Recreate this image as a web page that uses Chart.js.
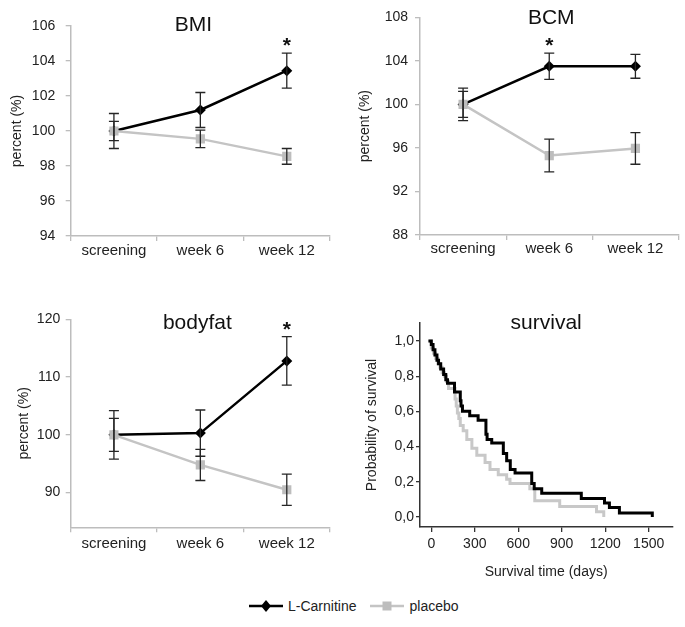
<!DOCTYPE html>
<html>
<head>
<meta charset="utf-8">
<script src="https://cdn.jsdelivr.net/npm/chart.js@4.4.0/dist/chart.umd.min.js"></script>
<style>
  body { margin: 0; background: #fff; font-family: "Liberation Sans", Arial, sans-serif; }
  #page { position: relative; width: 685px; height: 627px; overflow: hidden; }
  #page canvas { position: absolute; }
  #legend { position: absolute; left: 249px; top: 598px; display: flex; align-items: center; font-size: 14px; color: #222; }
  #legend span { margin: 0 14px 0 5px; }
</style>
</head>
<body>
<div id="page">
  <canvas id="bmi" width="340" height="280" style="left:0;top:0"></canvas>
  <canvas id="bcm" width="345" height="280" style="left:340px;top:0"></canvas>
  <canvas id="fat" width="340" height="300" style="left:0;top:280px"></canvas>
  <canvas id="surv" width="345" height="310" style="left:340px;top:280px"></canvas>
  <div id="legend">
    <svg width="34" height="14"><line x1="0" y1="7" x2="34" y2="7" stroke="#000" stroke-width="2.5"/><polygon points="17,1 22,7 17,13 12,7" fill="#000"/></svg><span>L-Carnitine</span>
    <svg width="34" height="14"><line x1="0" y1="7" x2="34" y2="7" stroke="#c4c4c4" stroke-width="2.5"/><rect x="12.5" y="2.5" width="9" height="9" fill="#bdbdbd"/></svg><span>placebo</span>
  </div>
</div>
<script>
const categories = ['screening', 'week 6', 'week 12'];
const seriesNames = ['L-Carnitine', 'placebo'];

// BMI (% of screening)
const bmiCarnitine = [100, 101.2, 103.45];
const bmiCarnitineErr = [1.0, 1.0, 1.0];
const bmiPlacebo = [100, 99.55, 98.55];
const bmiPlaceboErr = [0.55, 0.5, 0.45];
const bmiTicks = [94, 96, 98, 100, 102, 104, 106];
const bmiStars = ['', '', '*'];

// BCM
const bcmCarnitine = [100, 103.5, 103.5];
const bcmCarnitineErr = [1.5, 1.2, 1.1];
const bcmPlacebo = [100, 95.3, 95.95];
const bcmPlaceboErr = [1.2, 1.5, 1.45];
const bcmTicks = [88, 92, 96, 100, 104, 108];
const bcmStars = ['', '*', ''];

// bodyfat
const fatCarnitine = [100, 100.3, 112.8];
const fatCarnitineErr = [4.2, 4.0, 4.2];
const fatPlacebo = [100, 94.8, 90.5];
const fatPlaceboErr = [2.85, 2.7, 2.7];
const fatTicks = [90, 100, 110, 120];
const fatStars = ['', '', '*'];

// survival (Kaplan-Meier steps: day of drop, probability after drop)
const survDaysCarnitine = [-20, 0, 12, 25, 39, 50, 65, 85, 100, 112, 160, 200, 205, 215, 265, 323, 377, 385, 417, 497, 520, 545, 578, 693, 710, 762, 1035, 1195, 1229, 1298, 1525];
const survProbCarnitine = [1.0, 0.98, 0.95, 0.92, 0.89, 0.87, 0.84, 0.81, 0.78, 0.76, 0.71, 0.66, 0.63, 0.60, 0.575, 0.55, 0.47, 0.44, 0.42, 0.36, 0.32, 0.27, 0.25, 0.19, 0.16, 0.135, 0.105, 0.08, 0.054, 0.022, 0.0];
const survDaysPlacebo = [-15, 0, 15, 30, 45, 60, 75, 90, 105, 119, 164, 172, 180, 190, 200, 220, 245, 280, 314, 371, 405, 462, 520, 543, 680, 714, 886, 1140, 1190];
const survProbPlacebo = [1.0, 0.96, 0.93, 0.90, 0.87, 0.85, 0.82, 0.80, 0.77, 0.73, 0.67, 0.63, 0.59, 0.56, 0.52, 0.49, 0.44, 0.39, 0.35, 0.31, 0.27, 0.24, 0.214, 0.19, 0.16, 0.092, 0.06, 0.03, 0.0];
const survXTicks = [0, 300, 600, 900, 1200, 1500];
const survYTicks = [0, 0.2, 0.4, 0.6, 0.8, 1.0];

const FONT = '"Liberation Sans", Arial, sans-serif';
Chart.defaults.font.family = FONT;
Chart.defaults.color = '#222';
Chart.defaults.animation = false;

// error bars, significance stars and the panel title
const panelDecor = {
  id: 'panelDecor',
  afterDatasetsDraw(chart, args, opts) {
    const ctx = chart.ctx;
    const y = chart.scales.y;
    ctx.save();
    chart.data.datasets.forEach((ds, i) => {
      if (!ds.errors) return;
      const meta = chart.getDatasetMeta(i);
      ctx.strokeStyle = '#262626';
      ctx.lineWidth = 1.3;
      meta.data.forEach((pt, j) => {
        const top = y.getPixelForValue(ds.data[j] + ds.errors[j]);
        const bot = y.getPixelForValue(ds.data[j] - ds.errors[j]);
        ctx.beginPath();
        ctx.moveTo(pt.x, top); ctx.lineTo(pt.x, bot);
        ctx.moveTo(pt.x - 5, top); ctx.lineTo(pt.x + 5, top);
        ctx.moveTo(pt.x - 5, bot); ctx.lineTo(pt.x + 5, bot);
        ctx.stroke();
      });
    });
    ctx.fillStyle = '#111';
    ctx.textAlign = 'center';
    if (opts.stars) {
      const ds = chart.data.datasets[0];
      const meta = chart.getDatasetMeta(0);
      ctx.font = 'bold 21px ' + FONT;
      ctx.textBaseline = 'alphabetic';
      opts.stars.forEach((s, j) => {
        if (!s) return;
        const top = y.getPixelForValue(ds.data[j] + ds.errors[j]);
        ctx.fillText(s, meta.data[j].x, top - 1);
      });
    }
    const a = chart.chartArea;
    ctx.font = '21px ' + FONT;
    ctx.textBaseline = 'middle';
    ctx.fillText(opts.title, (a.left + a.right) / 2 + (opts.dx || 0), opts.titleY);
    ctx.restore();
  }
};

function makePanel(id, p) {
  const canvas = document.getElementById(id);
  const area = p.area;
  new Chart(canvas, {
    type: 'line',
    data: {
      labels: categories,
      datasets: [{
        label: seriesNames[0],
        data: p.carnitine,
        errors: p.carnitineErr,
        borderColor: '#000',
        backgroundColor: '#000',
        borderWidth: 2.5,
        pointStyle: 'rectRot',
        pointRadius: 5.5,
        pointBorderWidth: 0,
        order: 2
      }, {
        label: seriesNames[1],
        data: p.placebo,
        errors: p.placeboErr,
        borderColor: '#c4c4c4',
        backgroundColor: '#bdbdbd',
        borderWidth: 2.5,
        pointStyle: 'rect',
        pointRadius: 6.5,
        pointBorderWidth: 0,
        order: 1
      }]
    },
    options: {
      responsive: false,
      layout: { padding: { left: 0, top: area.top, right: canvas.width - area.right, bottom: 0 } },
      plugins: {
        legend: { display: false },
        tooltip: { enabled: false },
        panelDecor: { title: p.title, titleY: p.titleY, stars: p.stars, dx: p.dx }
      },
      scales: {
        x: {
          offset: true,
          grid: { offset: true, drawOnChartArea: false, color: '#bdbdbd', tickLength: 5, lineWidth: 1.3 },
          border: { color: '#bdbdbd', width: 1.5 },
          ticks: { font: { size: 15 }, color: '#222', padding: p.xPad, maxRotation: 0, autoSkip: false },
          afterFit: s => { s.height = canvas.height - area.bottom; }
        },
        y: {
          min: p.yMin,
          max: p.yMax,
          afterBuildTicks: s => { s.ticks = p.yTicks.map(v => ({ value: v })); },
          grid: { drawOnChartArea: false, color: '#bdbdbd', tickLength: 5, lineWidth: 1.3 },
          border: { color: '#bdbdbd', width: 1.5 },
          ticks: { font: { size: 14 }, color: '#222', padding: p.yPad },
          title: { display: true, text: 'percent (%)', font: { size: 14 }, color: '#222', padding: { top: p.titlePad, bottom: 0 } },
          afterFit: s => { s.width = area.left; }
        }
      }
    },
    plugins: [panelDecor]
  });
}

makePanel('bmi', {
  area: { left: 70.7, right: 330, top: 26, bottom: 236 },
  carnitine: bmiCarnitine, carnitineErr: bmiCarnitineErr,
  placebo: bmiPlacebo, placeboErr: bmiPlaceboErr,
  yMin: 94, yMax: 106, yTicks: bmiTicks, stars: bmiStars,
  title: 'BMI', titleY: 25, dx: -7, xPad: 1, yPad: 10.5, titlePad: 9
});
makePanel('bcm', {
  area: { left: 80, right: 341.7, top: 17.3, bottom: 235 },
  carnitine: bcmCarnitine, carnitineErr: bcmCarnitineErr,
  placebo: bcmPlacebo, placeboErr: bcmPlaceboErr,
  yMin: 88, yMax: 108, yTicks: bcmTicks, stars: bcmStars,
  title: 'BCM', titleY: 18, dx: 2, xPad: 0, yPad: 7, titlePad: 16.5
});
makePanel('fat', {
  area: { left: 70.7, right: 330, top: 39.3, bottom: 247.3 },
  carnitine: fatCarnitine, carnitineErr: fatCarnitineErr,
  placebo: fatPlacebo, placeboErr: fatPlaceboErr,
  yMin: 84, yMax: 120, yTicks: fatTicks, stars: fatStars,
  title: 'bodyfat', titleY: 43, dx: -3, xPad: 3, yPad: 5.5, titlePad: 15.5
});

// survival panel
(function () {
  const canvas = document.getElementById('surv');
  const area = { left: 80, right: 332.3, top: 43, bottom: 247 };
  const toPoints = (xs, ys) => xs.map((x, i) => ({ x: x, y: ys[i] }));
  new Chart(canvas, {
    type: 'line',
    data: {
      datasets: [{
        label: seriesNames[0],
        data: toPoints(survDaysCarnitine, survProbCarnitine),
        borderColor: '#000',
        borderWidth: 3,
        stepped: 'before',
        pointRadius: 0,
        order: 1
      }, {
        label: seriesNames[1],
        data: toPoints(survDaysPlacebo, survProbPlacebo),
        borderColor: '#c8c8c8',
        borderWidth: 3,
        stepped: 'before',
        pointRadius: 0,
        order: 2
      }]
    },
    options: {
      responsive: false,
      layout: { padding: { left: 0, top: area.top, right: canvas.width - area.right, bottom: 0 } },
      plugins: {
        legend: { display: false },
        tooltip: { enabled: false },
        panelDecor: { title: 'survival', titleY: 43 }
      },
      scales: {
        x: {
          type: 'linear',
          min: -78,
          max: 1663,
          afterBuildTicks: s => { s.ticks = survXTicks.map(v => ({ value: v })); },
          grid: { drawOnChartArea: false, color: '#333', tickLength: 5, lineWidth: 1.3 },
          border: { color: '#333', width: 1.5 },
          ticks: { font: { size: 14 }, color: '#222', padding: 4, maxRotation: 0, callback: v => String(v) },
          title: { display: true, text: 'Survival time (days)', font: { size: 14 }, color: '#222', padding: { top: 0, bottom: 9 } },
          afterFit: s => { s.height = canvas.height - area.bottom; }
        },
        y: {
          min: -0.057,
          max: 1.102,
          afterBuildTicks: s => { s.ticks = survYTicks.map(v => ({ value: v })); },
          grid: { drawOnChartArea: false, color: '#333', tickLength: 4, lineWidth: 1.3 },
          border: { color: '#333', width: 1.5 },
          ticks: { font: { size: 14 }, color: '#222', padding: 2, callback: v => v.toFixed(1).replace('.', ',') },
          title: { display: true, text: 'Probability of survival', font: { size: 14 }, color: '#222', padding: { top: 23.5, bottom: 0 } },
          afterFit: s => { s.width = area.left; }
        }
      }
    },
    plugins: [panelDecor]
  });
})();
</script>
</body>
</html>
